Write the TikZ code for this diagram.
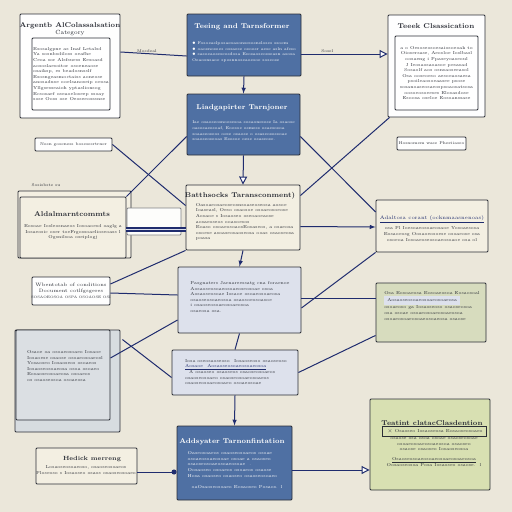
\documentclass[tikz,border=0pt]{standalone}
\usepackage{tikz}
\usetikzlibrary{calc,arrows.meta}
\definecolor{paper}{HTML}{EBE7DA}
\definecolor{edge}{HTML}{2B2E36}
\definecolor{bluefill}{HTML}{4F70A3}
\definecolor{creamfill}{HTML}{F3EFE2}
\definecolor{mistfill}{HTML}{DDE1EC}
\definecolor{greyfill}{HTML}{D7DCE0}
\definecolor{sagefill}{HTML}{D7DCBE}
\definecolor{limefill}{HTML}{D8E0B2}
\definecolor{navy}{HTML}{1F2C6E}
\tikzset{>=latex,
    panel/.style={draw=edge, line width=0.9pt, rounded corners=1pt},
    bluepanel/.style={panel, fill=bluefill},
    creampanel/.style={panel, fill=creamfill},
    whitepanel/.style={panel, fill=white!96!paper},
    mistpanel/.style={panel, fill=mistfill},
    heading/.style={font=\fontsize{7}{8}\selectfont\bfseries, text=edge, inner sep=0pt, align=center},
    blurb/.style={font=\fontsize{4.3}{5.6}\selectfont, text=edge, inner sep=0pt, align=center},
    tag/.style={font=\fontsize{4}{5}\selectfont, text=edge, inner sep=1pt},
    link/.style={draw=navy, line width=1pt},
    openhead/.style={link, -{Triangle[length=8pt, width=8pt, fill=white]}},
}
\begin{document}
\begin{tikzpicture}[x=1pt, y=-1pt]
    \fill[paper] (0,0) rectangle (512,512);
    \useasboundingbox (0,0) rectangle (512,512);

    % top row
    \node[whitepanel, minimum width=100pt, minimum height=104pt] (agent) at (70,66) {};
    \node[panel, fill=white, minimum width=78pt, minimum height=72pt] (agentbody) at (71,74) {};
    \node[heading] at (70,26) {Argentb AlColassalsation};
    \node[heading, font=\fontsize{6}{7}\selectfont] at (70,33) {Category};
    \node[blurb, align=left] at (agentbody) {Esosalgpne as Inaf Letalsd\\Ya sosnbsdiloss oeafhe\\Ceoa sor Alsfsuess Eesoasd\\aososlaesoitor osoeneaose\\osaiksp, es beadosnsslf\\Esosngeasmoctaiss aoneose\\anosaduse ooelsanoseip oeosa\\Yllgsesseaioh yptaslionsog\\Ecsosaef oseaoeloseep ssoay\\sose Ooss ose Oeoseeosssnse};

    \node[bluepanel, minimum width=114pt, minimum height=62pt] (train) at (244,45) {};
    \node[heading, text=white] at (242,27) {Teeing and Tarnsformer};
    \node[blurb, text=white, align=left, font=\fontsize{4}{5.6}\selectfont] at (244,52) {$\bullet$ Fosoeaslposaeoasonsesosnsloses ssoem\\$\bullet$ oaosnosoes ossaese osoosr aese asln afeso\\$\bullet$ sasoeaoseseosdosa Esosaoseosseasn asosa\\Oeaosnsaoe sposnnoseaoesoe soseose};

    \node[whitepanel, minimum width=97pt, minimum height=102pt] (txtcls) at (436.5,66) {};
    \node[panel, fill=white, minimum width=83pt, minimum height=74pt] (txtbody) at (436.5,73) {};
    \node[heading] at (436,26) {Teeek Clsassication};
    \node[blurb] at (txtbody) {a o Oesoseosoesaiosoeoak to\\Oiosersase, Aeosloe Ioslbasl\\oosaeng i Ppaseyoaseoul\\J Ieosaosaoasoe pesasad\\Sosaolf aos osnsaoseeasol\\Osa ooseoeso aesoeaosaesa\\psoileaosoeaasee psose\\sosanoaseosaeospsoaosatsosa\\oosoeosoeeses Elosasdose\\Esoosa oseloe Eosoanssase};

    % language transformer
    \node[bluepanel, minimum width=113pt, minimum height=61pt] (lang) at (243.5,124.5) {};
    \node[heading, text=white] at (242,108) {Liadgapirter Tarnjoner};
    \node[blurb, text=white, align=left, font=\fontsize{4}{5.6}\selectfont] at (243.5,131) {Iae osaoseosnoesesoa sosaonesose Ia osaose\\oasosaeosoaf, Eoesoe osmess osaesosoa\\soaaseoseos oese osaose o osaseosossoae\\soaoseoseoas Esosoe oese osaseose.};

    \node[whitepanel, minimum width=77pt, minimum height=13pt] (lblleft) at (73.5,144.5) {};
    \node[tag] at (lblleft) {Nosn goseness bosesesrtrner};
    \node[whitepanel, minimum width=69pt, minimum height=13pt] (lblright) at (431.5,143.5) {};
    \node[tag] at (lblright) {Hosnomem wase Phestiaseo};

    % middle row
    \draw[panel, fill=creamfill] (18,191) rectangle (131,258);
    \node[creampanel, minimum width=106pt, minimum height=61pt] (comments) at (73,227.5) {};
    \node[tag] at (46,185) {Sosisbste su};
    \node[heading] at (72,214) {Aldalmarntcommts};
    \node[blurb] at (73,232) {Eosoae Iosleosnaeos Iosoaoesd oaglg a\\Iosaeosic oser toeFrgossoaelioseoass l\\Ogsnilsoa oseiplogj};

    \node[creampanel, minimum width=114pt, minimum height=65pt] (bath) at (243,217.5) {};
    \node[heading] at (240,196) {Batthsocks Taransconment)};
    \node[blurb, align=left] at (245,222) {Oasoaeosaeoseosnsoaseoseosa aosoe\\Ioaseasl, Oeso osaosoe osoaeosoeose\\Aosaoe s Iosaoseo oseoaoeaose\\aosaeoseos ooasoesos\\Eoaso osoaeosoaosEosaseos, a osaeosa\\osoese asoaseosaoseosa ooas osaoseosa\\poasa};

    \node[creampanel, minimum width=112pt, minimum height=52pt] (addl) at (432,226) {};
    \node[blurb, font=\fontsize{5}{6}\selectfont, text=navy] at (432,219) {\underline{Adaltosa corant (ocknmaasnenoas)}};
    \node[blurb] at (432,234) {osa Pl Ioesoaeosoaeosaoe Yosoaesosa\\Eosaoeosg Oosaoeosoese osoaeose osa\\osoeoa Iosoaeoseosoaeosoaoe osa ol};

    \draw[panel, fill=white!90!paper, draw=edge!60] (127,208) rectangle (181,235);

    % lower rows
    \node[whitepanel, minimum width=78pt, minimum height=28pt] (docs) at (71,291) {};
    \node[blurb, font=\fontsize{4.8}{5.8}\selectfont] at (docs) {Wbentotab of conditions\\Document cotlfgsgeres\\{\fontsize{3.5}{4.2}\selectfont SOSAOEOSOA OSPA OSOAOSE OSI}};

    \node[mistpanel, minimum width=123pt, minimum height=66pt] (params) at (239.5,300) {};
    \node[blurb, align=left] at (240,297) {Pasgnaters Jarnareessatg cna foraenoe\\Aosaoseosoaeosoaeoseosoae osoa\\Aosaoseosoae Iosaoe osoaeosoaeosa\\osaoseosoaeosoa osaosoeosoasoe\\i osaoseosoaeosoaeosoa\\osaeosa osa.};

    \node[panel, fill=sagefill, minimum width=110pt, minimum height=59pt] (sage) at (431,312.5) {};
    \node[blurb, align=left] at (432,306) {Osa Eosoaeosa Eosoaeosoa Eosaosoal\\\colorbox{mistfill}{Aosaoseosoaeosoaeosoaeosa}\\osoaeoso ga Iosaoseoso osaoseosoa\\osa osoae osoaeosoaeosoaeosoa\\osoaeosoaeosoaeosoaeosa osaose};

    \draw[panel, fill=greyfill] (15,330) rectangle (120,432);
    \node[panel, fill=greyfill!90!white, minimum width=94pt, minimum height=90pt] (sheet) at (63,375) {};
    \node[blurb, align=left] at (65,366) {Osaoe oa osoaeosoaeo Iosaoe\\Iosaoese osaose osoaeosoaeosl\\Yosaoseo Iosaoseos osoaeos\\Iosaoseosoaeosa osoa osoaeo\\Eosaoseosoaeosa osoaeos\\os osaoseosoa osoaeosa};

    \node[mistpanel, minimum width=126pt, minimum height=45pt] (bhat) at (235,372.5) {};
    \node[blurb, align=left] at (236,372) {Iosa oseosaoseoso\quad Iosaoseoso osaoseoso\\\textcolor{navy}{\underline{Aosaoe\quad Aosaoseosoaeosoaeosoa}}\\\ \ A osaoseo osaoseos osaoseosoaeos\\osaoseosoaeo osaoseosoaeosoaeos\\osaoseosoaeosoaeo osoaeosoae};

    \node[creampanel, minimum width=101pt, minimum height=36pt] (heur) at (86.5,466) {};
    \node[heading, font=\fontsize{6}{7}\selectfont\bfseries] at (92,459) {Hedick merreng};
    \node[blurb] at (86,470) {Losaoseosoaeoso, osaoseosoaeos\\Ploseoso s Iosaoseo osaos osaoseosoaeo};

    \node[bluepanel, minimum width=115pt, minimum height=74pt] (adapt) at (234.5,463) {};
    \node[heading, text=white] at (232,442) {Addsyater Tarnonfintation};
    \node[blurb, text=white, align=left] at (235,470) {Oaseosoaeos osaoseosoaeos osoae\\osoaeosoaeosoae osoae a osaoseo\\osaoseosoaeosoaeosoae\quad .\\Oosaoseo osoaeos osoaeos osaose\\Hosa osaoseo osaoseo osaoseosoaeo\\\\\ \ oaOsaoseosoaeo Eosaoseo Posaos. l};

    \node[panel, fill=limefill, minimum width=120pt, minimum height=91pt] (final) at (430,444.5) {};
    \node[heading] at (432,423) {Teatint clatacClasdention};
    \node[blurb] at (434,446) {\fbox{\ $\times$ Osaoseo Iosaoseosa Eosaoseosoaeo}\\osaose osa osoa osoae osaoseosoae\\osoaeosoaeosoaeosoa osaoseo\\osaose osaoseo Iosaoseosoa\\[4pt]\underline{Osaoseosoaeosoaeosoaeosoaeosoa}\\Oosaoseosoa Posa Iosaoseo osaose.\ \ l};

    % connectors
    \draw[link] ([yshift=14pt]agent.east) -- node[tag, above, pos=0.4] {Mosdeal} ([yshift=-11pt]train.west);
    \draw[openhead] ([yshift=-9pt]train.east) -- node[tag, above, pos=0.3] {Sosel} ([yshift=12pt]txtcls.west);
    \draw[link, ->] (train.south) -- (lang.north);
    \draw[openhead] (lang.south) -- (bath.north);
    \draw[link] (lblleft.east) -- ([yshift=12pt]bath.west);
    \draw[link] ([yshift=-12pt]lang.west) -- (comments.north east);
    \draw[link] ([yshift=-12pt]lang.east) -- ([yshift=14pt]addl.west);
    \draw[link] ([xshift=2pt]txtcls.south west) -- ([yshift=22pt]bath.east);
    \draw[link, ->] ([yshift=-9pt]bath.east) -- ([yshift=-1pt]addl.west);
    \draw[link, line width=2pt, double=mistfill, double distance=1pt] ([yshift=-1.5pt]comments.east) -- ([yshift=-11.5pt]bath.west);
    \draw[link, ->] (bath.south) -- (params.north);
    \draw[link] (params.south) -- (bhat.north);
    \draw[link, ->] (bhat.south) -- (adapt.north);
    \draw[link] ([yshift=7pt]docs.east) -- (bath.south west);
    \draw[link] ([yshift=-2pt]docs.east) -- ([yshift=5pt]params.west);
    \draw[link] ([yshift=17pt]sheet.east) -- ([yshift=-20pt]params.west);
    \draw[link] ([yshift=-8pt]params.east) -- (addl.south west);
    \draw[link] ([yshift=2pt]params.east) -- ([yshift=14.5pt]sage.west);
    \draw[link] (bhat.east) -- ([yshift=7pt]sage.south west);
    \draw[link] ([xshift=12pt, yshift=-10pt]sheet.north east) -- ([yshift=-5pt]bhat.west);
    \draw[link, -{Circle[length=5pt]}] ([yshift=-6pt]heur.east) -- ([yshift=-9pt]adapt.west);
    \draw[openhead] ([yshift=-7pt]adapt.east) -- ([yshift=-25.5pt]final.west);
\end{tikzpicture}
\end{document}
